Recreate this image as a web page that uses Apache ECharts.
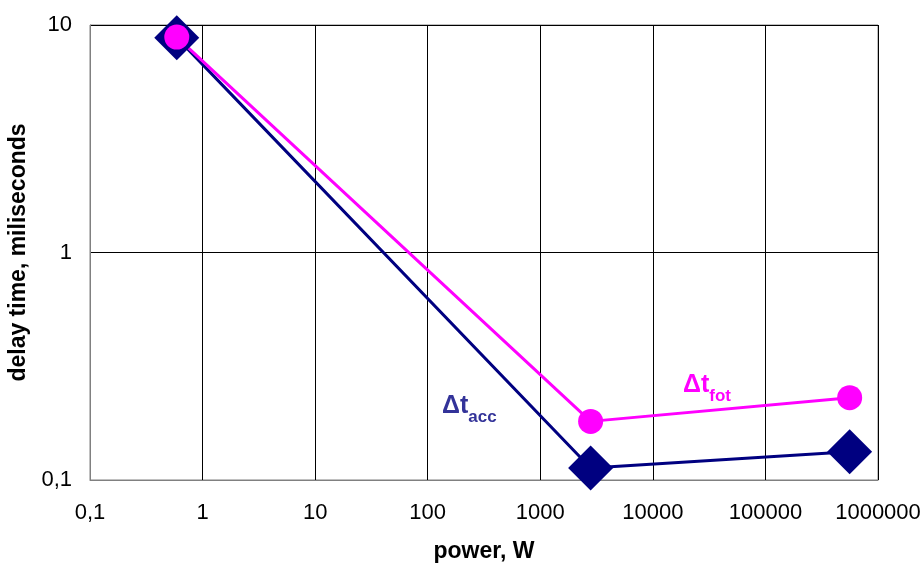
<!DOCTYPE html>
<html><head><meta charset="utf-8">
<script src="https://cdn.jsdelivr.net/npm/echarts@6/dist/echarts.min.js"></script>
<style>html,body{margin:0;padding:0;background:#fff}#c{width:924px;height:564px}</style>
</head><body><div id="c"></div>
<script>
const powerAcc = [0.59, 2800, 560000];
const delayAcc = [8.8, 0.113, 0.133];
const powerFot = [0.59, 2800, 560000];
const delayFot = [8.85, 0.181, 0.23];
const xTicks = [0.1, 1, 10, 100, 1000, 10000, 100000, 1000000];
const yTicks = [0.1, 1, 10];

const fmt = v => String(v).replace('.', ',');
const chart = echarts.init(document.getElementById('c'));
const font = 'Liberation Sans, Arial, sans-serif';
chart.setOption({
  animation: false,
  grid: {left: 90, right: 46, top: 25, bottom: 84, show: true, borderColor: '#808080', borderWidth: 1, outerBoundsMode: 'none', containLabel: false},
  xAxis: {
    type: 'log', logBase: 10, min: xTicks[0], max: xTicks[xTicks.length - 1],
    name: 'power, W', nameLocation: 'middle', nameGap: 60,
    nameTextStyle: {fontFamily: font, fontSize: 23, fontWeight: 'bold', color: '#000'},
    axisLine: {lineStyle: {color: '#808080'}},
    axisTick: {show: false},
    minorTick: {show: false},
    axisLabel: {formatter: fmt, fontFamily: font, fontSize: 22, color: '#000', margin: 22},
    splitLine: {show: true, lineStyle: {color: '#000', width: 1}}
  },
  yAxis: {
    type: 'log', logBase: 10, min: yTicks[0], max: yTicks[yTicks.length - 1],
    name: 'delay time, miliseconds', nameLocation: 'middle', nameGap: 54,
    nameTextStyle: {fontFamily: font, fontSize: 23, fontWeight: 'bold', color: '#000'},
    axisLine: {lineStyle: {color: '#808080'}},
    axisTick: {show: false},
    axisLabel: {formatter: fmt, fontFamily: font, fontSize: 22, color: '#000', margin: 18},
    splitLine: {show: true, lineStyle: {color: '#000', width: 1}}
  },
  series: [
    {
      type: 'line', name: 'acc',
      data: powerAcc.map((p, i) => [p, delayAcc[i]]),
      symbol: 'diamond', symbolSize: 45,
      lineStyle: {color: '#000080', width: 3},
      itemStyle: {color: '#000080'}
    },
    {
      type: 'line', name: 'fot',
      data: powerFot.map((p, i) => [p, delayFot[i]]),
      symbol: 'circle', symbolSize: 25,
      lineStyle: {color: '#ff00ff', width: 3},
      itemStyle: {color: '#ff00ff'}
    }
  ],
  graphic: [
    {type: 'text', left: 442, top: 394, style: {
      text: '{a|Δt}{s|acc}', fill: '#333399',
      rich: {a: {fontFamily: font, fontSize: 25, fontWeight: 'bold', fill: '#333399', verticalAlign: 'bottom', lineHeight: 28},
             s: {fontFamily: font, fontSize: 17, fontWeight: 'bold', fill: '#333399', verticalAlign: 'bottom', lineHeight: 20, padding: [0,0,-7,0]}}
    }},
    {type: 'text', left: 683, top: 373, style: {
      text: '{a|Δt}{s|fot}', fill: '#ff00ff',
      rich: {a: {fontFamily: font, fontSize: 25, fontWeight: 'bold', fill: '#ff00ff', verticalAlign: 'bottom', lineHeight: 28},
             s: {fontFamily: font, fontSize: 17, fontWeight: 'bold', fill: '#ff00ff', verticalAlign: 'bottom', lineHeight: 20, padding: [0,0,-7,0]}}
    }}
  ]
});
</script></body></html>
